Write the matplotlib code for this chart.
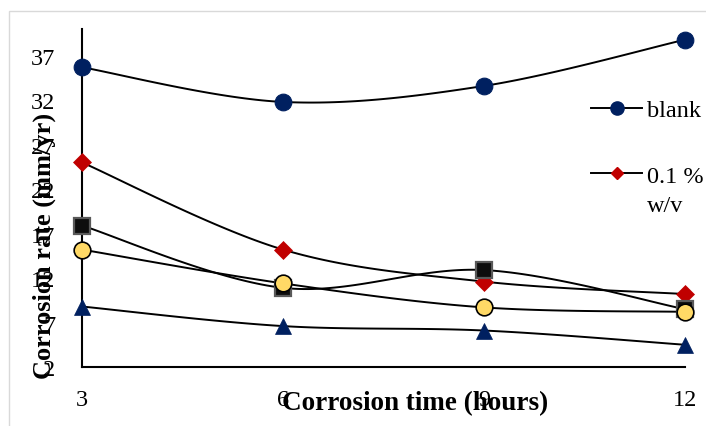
import numpy as np
import matplotlib
matplotlib.use("Agg")
import matplotlib.pyplot as plt
from matplotlib.patches import Rectangle
from matplotlib.lines import Line2D

plt.rcParams['font.family'] = ['Liberation Serif', 'DejaVu Serif']

hours = [3, 6, 9, 12]
blank = [35.7, 31.8, 33.6, 38.8]
conc_01 = [25.0, 15.2, 11.6, 10.2]
series_sq = [17.9, 10.9, 12.9, 8.5]
series_yc = [15.2, 11.4, 8.7, 8.2]
series_tri = [8.8, 6.6, 6.1, 4.5]
yticks = [2, 7, 12, 17, 22, 27, 32, 37]
xticks = [3, 6, 9, 12]


def smooth(x, y, n=40):
    """Excel-like smoothed line (Bezier through the points)."""
    P = np.column_stack([x, y]).astype(float)
    m = len(P)
    out = []
    for i in range(m - 1):
        p0 = P[i - 1] if i > 0 else P[i]
        p1 = P[i]
        p2 = P[i + 1]
        p3 = P[i + 2] if i + 2 < m else P[i + 1]
        c1 = p1 + (p2 - p0) / 6.0
        c2 = p2 - (p3 - p1) / 6.0
        t = np.linspace(0, 1, n)[:, None]
        seg = ((1 - t) ** 3) * p1 + 3 * ((1 - t) ** 2) * t * c1 + 3 * (1 - t) * t ** 2 * c2 + t ** 3 * p2
        out.append(seg if i == 0 else seg[1:])
    s = np.vstack(out)
    return s[:, 0], s[:, 1]


W, H = 706, 427
fig = plt.figure(figsize=(W / 100, H / 100), dpi=100)
fig.patches.append(Rectangle((9 / W, -0.1), 1.2, 1 - 12 / H + 0.1, transform=fig.transFigure,
                             fill=False, edgecolor='#d9d9d9', linewidth=1.0, zorder=0))
ax = fig.add_axes([82 / W, 1 - 368 / H, (685 - 82) / W, (368 - 30) / H])

lw = 1.4
styles = [
    (blank, dict(marker='o', ms=12, mfc='#002060', mec='#002060', mew=0.8)),
    (conc_01, dict(marker='D', ms=8.8, mfc='#C00000', mec='#C00000', mew=0.5)),
    (series_sq, dict(marker='s', ms=11, mfc='#0d0d0d', mec='#595959', mew=1.6)),
    (series_yc, dict(marker='o', ms=12, mfc='#FFD966', mec='#000000', mew=1.2)),
    (series_tri, dict(marker='^', ms=12, mfc='#002060', mec='#002060', mew=0.5)),
]
for vals, mk in styles:
    sx, sy = smooth(hours, vals)
    ax.plot(sx, sy, color='black', lw=lw, zorder=2, clip_on=False)
    ax.plot(hours, vals, linestyle='none', zorder=3, clip_on=False, **mk)

handles = [
    Line2D([], [], color='black', lw=lw, marker='o', ms=9.5, mfc='#002060', mec='#002060'),
    Line2D([], [], color='black', lw=lw, marker='D', ms=6.5, mfc='#C00000', mec='#C00000'),
]
labels = ['blank', '0.1 %']

ax.set_xlim(3, 12)
ax.set_ylim(2, 40)
ax.set_xticks(xticks)
ax.set_yticks(yticks)
ax.tick_params(axis='both', length=0, labelsize=17.5)
ax.tick_params(axis='x', pad=16)
ax.tick_params(axis='y', pad=19)
for s in ['top', 'right']:
    ax.spines[s].set_visible(False)
for s in ['left', 'bottom']:
    ax.spines[s].set_linewidth(1.5)
    ax.spines[s].set_color('black')

ax.set_xlabel('Corrosion time (hours)', fontsize=19.5, fontweight='bold')
ax.set_ylabel('Corrosion rate (mm/yr)', fontsize=19, fontweight='bold')
ax.xaxis.label.set_verticalalignment('center')
ax.yaxis.label.set_verticalalignment('center')
ax.xaxis.set_label_coords((415 - 82) / 603, (368 - 404) / 338)
ax.yaxis.set_label_coords((44 - 82) / 603, (368 - 246) / 338)

leg = ax.legend(handles, labels, loc='upper left', bbox_to_anchor=(591 / W, 1 - 100 / H),
                bbox_transform=fig.transFigure, frameon=False, fontsize=17.5,
                handlelength=2.1, handletextpad=0.2, labelspacing=1.8, borderpad=0,
                borderaxespad=0)

fig.canvas.draw()
bb = leg.get_texts()[1].get_window_extent()
fig.text(bb.x0 / W, (bb.y0 - 8) / H, 'w/v', ha='left', va='top', fontsize=17.5)

fig.savefig('out.png', dpi=100)
